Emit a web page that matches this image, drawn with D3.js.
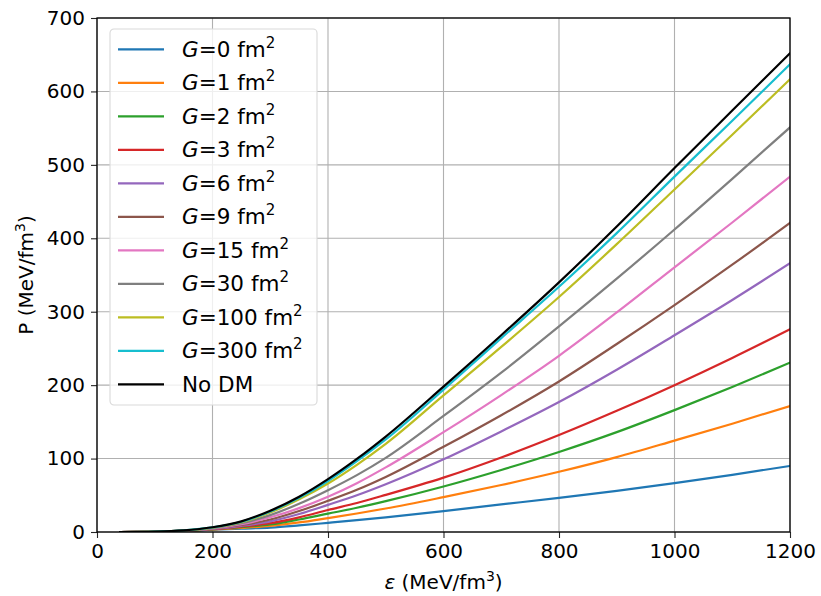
<!DOCTYPE html>
<html>
<head>
<meta charset="utf-8">
<script src="https://cdn.jsdelivr.net/npm/d3@7"></script>
<style>
  html, body { margin: 0; padding: 0; background: #ffffff; }
  svg { display: block; font-family: "DejaVu Sans", sans-serif; }
</style>
</head>
<body>
<svg id="chart" width="821" height="596"></svg>
<script>
// Energy density grid (MeV/fm^3)
const energy = [40, 100, 150, 200, 250, 300, 350, 400, 450, 500, 600, 700, 800, 900, 1000, 1100, 1200];

// Pressure (MeV/fm^3) for each coupling G, plus the pure nuclear-matter EoS
const pG0   = [0, 0.4, 1.2, 3.1, 4.6, 6.0, 9.0, 12.5, 16.1, 20.0, 28.5, 37.5, 46.5, 56.0, 66.5, 77.8, 90.0];
const pG1   = [0, 0.4, 1.3, 3.4, 5.6, 8.4, 13.0, 19.0, 25.2, 32.0, 47.5, 64.0, 82.0, 102.0, 124.5, 147.5, 171.6];
const pG2   = [0, 0.4, 1.4, 3.6, 6.5, 10.2, 17.0, 25.0, 33.0, 42.0, 62.0, 84.5, 109.0, 136.0, 166.0, 197.5, 230.6];
const pG3   = [0, 0.4, 1.5, 3.8, 7.4, 12.0, 20.0, 30.0, 39.5, 50.5, 74.0, 101.5, 132.0, 165.0, 200.0, 237.0, 276.0];
const pG6   = [0, 0.4, 1.6, 4.2, 8.4, 14.5, 24.5, 37.0, 50.0, 65.0, 99.0, 137.0, 177.0, 221.0, 268.0, 316.0, 366.0];
const pG9   = [0, 0.4, 1.7, 4.5, 9.5, 17.0, 28.5, 42.5, 57.5, 75.0, 116.0, 159.0, 205.0, 256.0, 309.0, 364.0, 421.0];
const pG15  = [0, 0.5, 1.8, 4.9, 10.6, 20.0, 32.5, 48.0, 66.5, 88.0, 136.0, 186.5, 240.0, 299.0, 360.5, 421.5, 484.0];
const pG30  = [0, 0.5, 1.9, 5.4, 12.0, 23.0, 38.5, 57.0, 77.5, 101.0, 158.0, 217.0, 280.0, 345.0, 412.0, 481.0, 551.0];
const pG100 = [0, 0.5, 2.1, 5.9, 13.4, 26.5, 44.5, 66.0, 91.5, 120.0, 186.0, 252.0, 320.0, 392.0, 466.5, 541.0, 616.5];
const pG300 = [0, 0.6, 2.2, 6.2, 14.0, 28.0, 46.5, 69.5, 96.5, 126.0, 194.0, 264.0, 334.0, 407.0, 484.0, 560.0, 637.0];
const pNoDM = [0, 0.6, 2.3, 6.5, 14.5, 29.0, 48.0, 72.0, 99.5, 130.0, 198.0, 268.0, 340.0, 416.0, 495.6, 574.0, 652.0];

const gValues = ["0", "1", "2", "3", "6", "9", "15", "30", "100", "300"];
const seriesColors = ["#1f77b4", "#ff7f0e", "#2ca02c", "#d62728", "#9467bd",
                      "#8c564b", "#e377c2", "#7f7f7f", "#bcbd22", "#17becf", "#000000"];

const xTicks = [0, 200, 400, 600, 800, 1000, 1200];
const yTicks = [0, 100, 200, 300, 400, 500, 600, 700];

const series = [pG0, pG1, pG2, pG3, pG6, pG9, pG15, pG30, pG100, pG300, pNoDM].map((vals, i) => ({
  label: i < gValues.length ? gValues[i] : null,
  color: seriesColors[i],
  points: energy.map((e, j) => [e, vals[j]])
}));

const svg = d3.select("#chart");
const W = 821, H = 596;
const margin = { top: 18, right: 31, bottom: 64, left: 97 };
const innerW = W - margin.left - margin.right;
const innerH = H - margin.top - margin.bottom;
const tickFont = 20, legendFont = 21.5, labelFont = 20;

const x = d3.scaleLinear().domain([0, 1200]).range([0, innerW]);
const y = d3.scaleLinear().domain([0, 700]).range([innerH, 0]);

const g = svg.append("g").attr("transform", `translate(${margin.left},${margin.top})`);

// Grid
g.append("g").selectAll("line").data(xTicks).join("line")
  .attr("x1", d => x(d)).attr("x2", d => x(d))
  .attr("y1", 0).attr("y2", innerH)
  .attr("stroke", "#b0b0b0").attr("stroke-width", 1.1);
g.append("g").selectAll("line").data(yTicks).join("line")
  .attr("x1", 0).attr("x2", innerW)
  .attr("y1", d => y(d)).attr("y2", d => y(d))
  .attr("stroke", "#b0b0b0").attr("stroke-width", 1.1);

// Curves
const line = d3.line().x(d => x(d[0])).y(d => y(d[1])).curve(d3.curveMonotoneX);
svg.append("defs").append("clipPath").attr("id", "plotclip")
  .append("rect").attr("x", 0).attr("y", 0).attr("width", innerW).attr("height", innerH);
g.append("g").attr("clip-path", "url(#plotclip)")
  .selectAll("path").data(series).join("path")
  .attr("d", d => line(d.points))
  .attr("fill", "none")
  .attr("stroke", d => d.color)
  .attr("stroke-width", 2.2)
  .attr("stroke-linejoin", "round")
  .attr("stroke-linecap", "square");

// Axes
const xAxis = d3.axisBottom(x).tickValues(xTicks).tickSize(6).tickPadding(5).tickFormat(d3.format("d"));
const yAxis = d3.axisLeft(y).tickValues(yTicks).tickSize(6).tickPadding(6).tickFormat(d3.format("d"));

const gx = g.append("g").attr("transform", `translate(0,${innerH})`).call(xAxis);
const gy = g.append("g").call(yAxis);
[gx, gy].forEach(a => {
  a.select(".domain").remove();
  a.selectAll(".tick line").attr("stroke", "#262626").attr("stroke-width", 1.1);
  a.selectAll(".tick text").attr("fill", "#000").attr("font-size", tickFont)
    .attr("font-family", "DejaVu Sans, sans-serif");
});
gx.selectAll(".tick text").attr("dy", "0.76em");

// Frame
g.append("rect").attr("x", 0).attr("y", 0).attr("width", innerW).attr("height", innerH)
  .attr("fill", "none").attr("stroke", "#000").attr("stroke-width", 1.3);

// Axis titles
const xl = svg.append("text")
  .attr("x", margin.left + innerW / 2).attr("y", 589)
  .attr("text-anchor", "middle").attr("font-size", labelFont).attr("fill", "#000");
xl.append("tspan").attr("font-style", "italic").text("ε");
xl.append("tspan").text(" (MeV/fm");
xl.append("tspan").attr("font-size", labelFont * 0.7).attr("dy", -8).text("3");
xl.append("tspan").attr("dy", 8).text(")");

const yl = svg.append("text")
  .attr("transform", `translate(33,${margin.top + innerH / 2}) rotate(-90)`)
  .attr("text-anchor", "middle").attr("font-size", labelFont).attr("fill", "#000");
yl.append("tspan").text("P (MeV/fm");
yl.append("tspan").attr("font-size", labelFont * 0.7).attr("dy", -8).text("3");
yl.append("tspan").attr("dy", 8).text(")");

// Legend
const lg = svg.append("g").attr("transform", "translate(110,29)");
lg.append("rect").attr("x", 0).attr("y", 0).attr("width", 207).attr("height", 376)
  .attr("rx", 4).attr("fill", "#ffffff").attr("fill-opacity", 0.8)
  .attr("stroke", "#d9d9d9").attr("stroke-width", 1.1);
const rowH = 33.5;
const rows = lg.selectAll("g.row").data(series).join("g")
  .attr("class", "row")
  .attr("transform", (d, i) => `translate(0,${20.3 + i * rowH})`);
rows.append("line").attr("x1", 8).attr("x2", 54).attr("y1", 0).attr("y2", 0)
  .attr("stroke", d => d.color).attr("stroke-width", 2.2);
rows.each(function(d) {
  const t = d3.select(this).append("text").attr("x", 72).attr("y", 7.5)
    .attr("font-size", legendFont).attr("fill", "#000");
  if (d.label === null) {
    t.text("No DM");
  } else {
    t.append("tspan").attr("font-style", "italic").text("G");
    t.append("tspan").text("=" + d.label + " fm");
    t.append("tspan").attr("font-size", legendFont * 0.7).attr("dy", -9).text("2");
  }
});
</script>
</body>
</html>
